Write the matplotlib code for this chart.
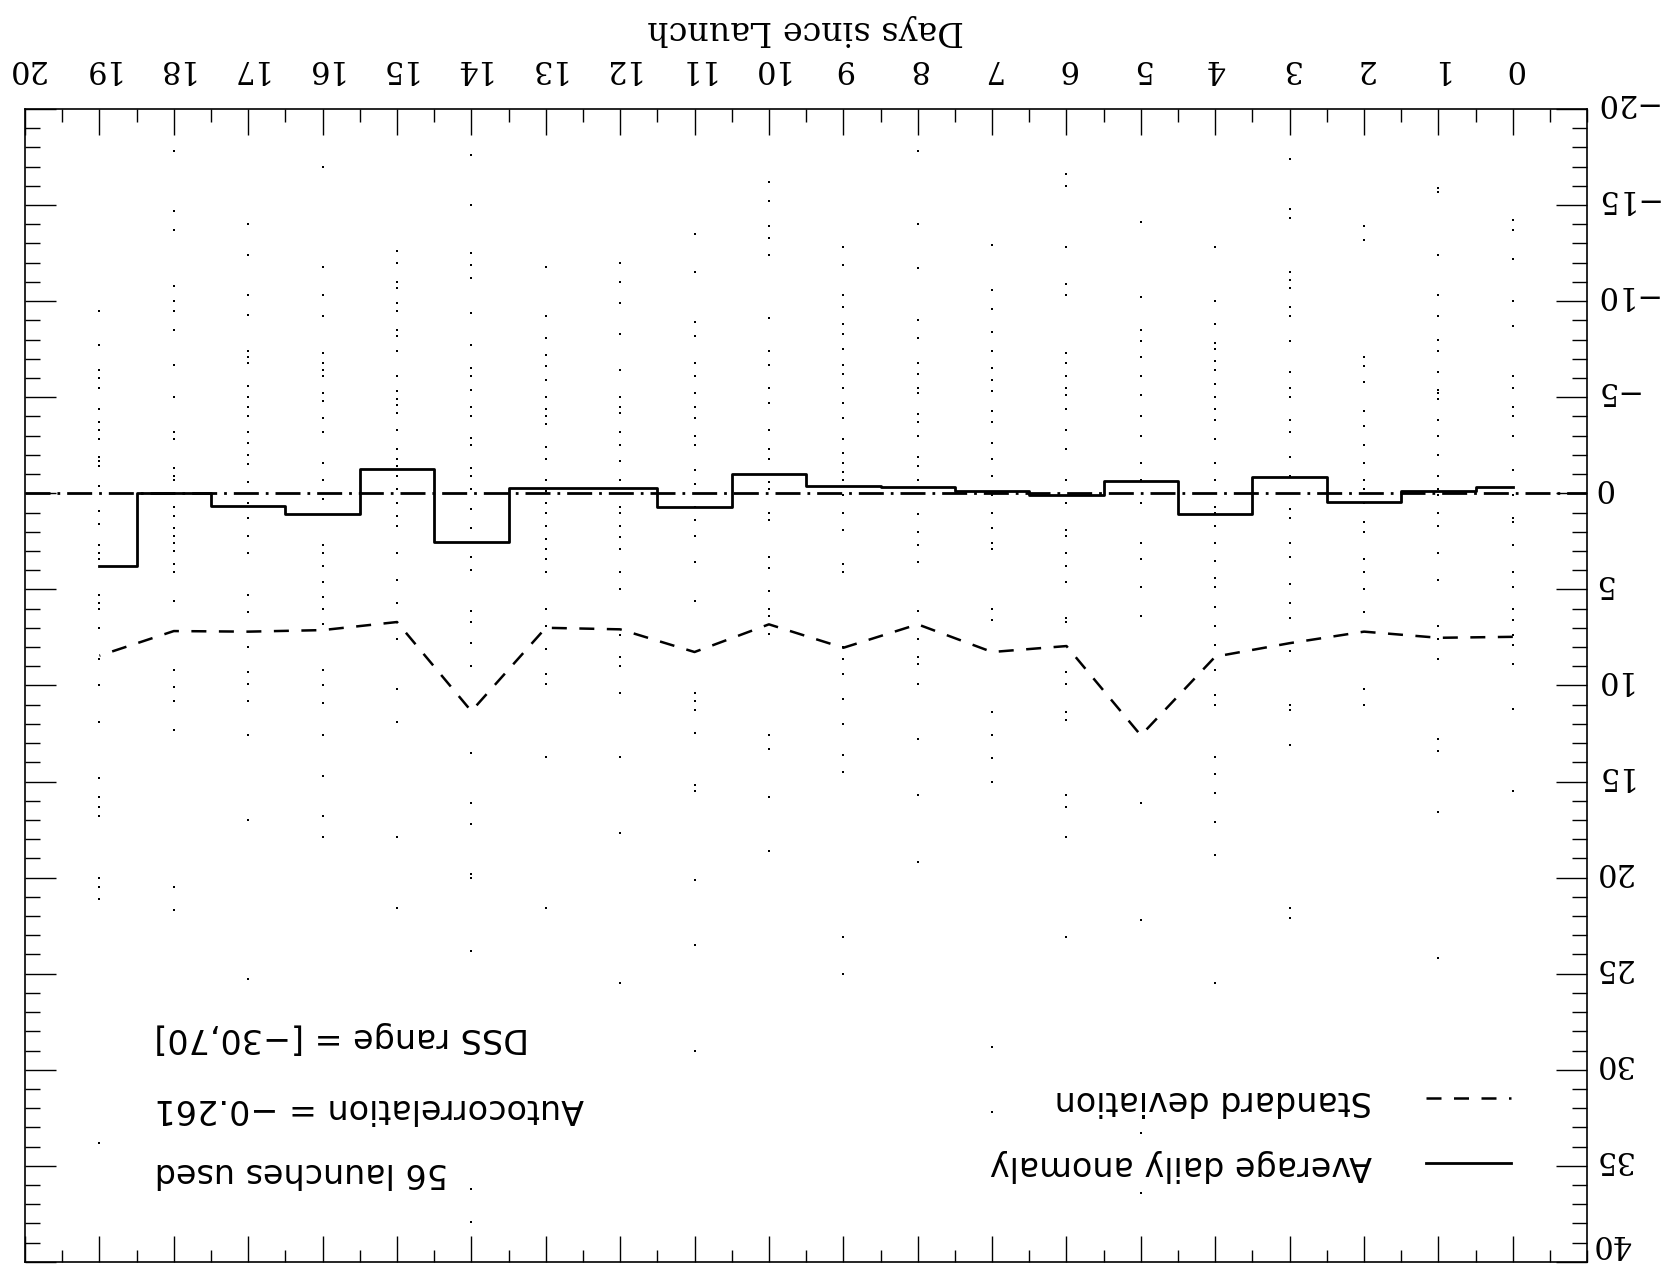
import matplotlib
matplotlib.use('Agg')
import matplotlib.pyplot as plt
from matplotlib.ticker import MultipleLocator
from matplotlib.transforms import ScaledTranslation
import numpy as np

plt.rcParams['font.family'] = 'DejaVu Serif'

# days since launch (0..19)
days = np.arange(0, 20)
day_ticks = np.arange(0, 21)

mean_anomaly = [-0.33, -0.14, 0.45, -0.85, 1.06, -0.64, 0.09, -0.12, -0.35, -0.40,
                -1.00, 0.71, -0.27, -0.30, 2.53, -1.27, 1.09, 0.64, 0.00, 3.80]

std_dev = [7.47, 7.52, 7.20, 7.80, 8.50, 12.60, 7.95, 8.26, 6.82, 8.04,
           6.82, 8.26, 7.08, 7.00, 11.34, 6.70, 7.12, 7.20, 7.17, 8.45]

# individual launch anomalies per day
dots_by_day = [
    [-14.2, -13.7, -12.2, -10.0, -8.7, -6.1, -5.5, -4.5, -4.0, -3.0, -1.2, 0.1, 1.3, 1.5,
     2.7, 4.1, 4.9, 6.0, 6.6, 7.4, 7.9, 8.9, 11.2, 15.5],
    [-15.9, -15.7, -12.4, -10.3, -9.2, -8.0, -7.4, -6.3, -5.4, -5.2, -4.9, -3.8, -3.0, -2.0,
     -0.9, -0.2, 0.1, 1.0, 1.7, 3.1, 4.5, 6.9, 7.6, 8.6, 12.8, 13.4, 16.6, 24.2],
    [-13.9, -13.2, -7.1, -6.6, -5.8, -4.3, -3.5, -2.5, -1.6, -0.7, -0.2, 0.5, 1.5, 2.0,
     3.4, 4.1, 5.0, 6.2, 10.2, 11.0],
    [-17.4, -14.8, -14.3, -11.5, -11.1, -10.7, -9.7, -9.2, -7.9, -6.3, -5.5, -5.0, -3.8, -3.2,
     -1.9, -0.9, 0.8, 1.3, 2.6, 3.3, 4.7, 5.7, 6.5, 8.2, 11.0, 11.3, 13.1, 21.6, 22.1],
    [-12.8, -10.0, -8.8, -7.8, -7.5, -6.9, -6.4, -5.7, -5.0, -4.4, -3.8, -2.8, -1.6, -0.7,
     0.7, 1.0, 1.7, 2.6, 3.5, 4.4, 4.9, 5.9, 6.9, 7.9, 9.2, 10.5, 11.0, 13.7, 14.6, 15.6,
     17.1, 18.8, 25.5],
    [-14.1, -10.2, -8.5, -7.9, -7.1, -6.1, -5.1, -4.0, -3.0, -1.6, -0.7, 0.5, 2.6, 3.4,
     4.9, 6.4, 16.1, 22.2, 33.3, 36.4],
    [-16.6, -16.0, -12.8, -10.9, -10.3, -7.3, -6.8, -6.1, -5.5, -5.1, -4.4, -3.3, -2.3, -0.7,
     0.5, 1.9, 2.2, 3.1, 3.8, 4.6, 6.5, 6.7, 9.3, 9.9, 11.4, 11.8, 15.7, 16.3, 17.9, 23.1],
    [-12.9, -10.6, -9.6, -8.4, -7.4, -6.5, -5.9, -5.3, -4.3, -3.7, -2.6, -1.8, -0.9, 0.1,
     1.0, 1.8, 2.6, 2.9, 6.0, 6.6, 11.4, 12.6, 13.8, 15.0, 28.8, 32.2],
    [-17.8, -14.0, -11.7, -9.0, -8.1, -6.8, -6.2, -5.5, -5.2, -4.1, -3.7, -3.0, -1.9, -1.4,
     -0.7, 1.1, 2.0, 2.7, 3.6, 6.1, 7.6, 8.5, 8.9, 9.9, 12.8, 15.7, 19.2],
    [-12.8, -11.9, -10.3, -9.7, -8.8, -8.3, -7.5, -6.7, -6.2, -5.5, -4.7, -3.9, -2.8, -2.1,
     -1.6, -1.1, -0.7, 0.1, 1.0, 1.9, 3.7, 4.1, 8.0, 8.6, 9.4, 10.7, 12.0, 13.6, 14.5, 23.1, 25.0],
    [-16.2, -15.2, -13.9, -13.3, -12.4, -9.1, -7.4, -6.7, -5.5, -4.7, -3.3, -2.3, -1.8, -0.6,
     -0.2, 1.0, 1.4, 3.3, 3.9, 5.1, 6.0, 6.4, 7.3, 12.6, 13.3, 15.8, 18.6],
    [-13.5, -11.5, -8.9, -8.2, -6.8, -6.1, -5.2, -4.5, -3.9, -3.0, -2.5, -1.2, -0.5, 0.7,
     1.4, 2.2, 3.6, 5.6, 10.4, 10.8, 11.3, 12.5, 15.2, 15.5, 20.1, 23.5, 29.0],
    [-12.0, -11.0, -9.9, -8.3, -6.4, -5.0, -4.5, -4.2, -3.2, -2.5, -1.7, -0.7, 0.7, 1.0,
     1.7, 2.3, 2.9, 4.1, 5.0, 7.4, 8.5, 9.0, 10.4, 13.7, 17.7, 25.5],
    [-11.8, -9.2, -8.1, -7.2, -6.6, -5.9, -5.0, -4.4, -4.0, -3.6, -2.4, -1.8, -0.7, -0.1,
     0.5, 1.0, 1.7, 2.4, 2.9, 3.4, 4.1, 6.0, 6.9, 8.1, 9.4, 9.9, 13.7, 21.6],
    [-17.6, -15.0, -12.5, -11.9, -11.2, -9.4, -7.7, -6.5, -6.1, -5.4, -4.5, -4.0, -2.9, -2.5,
     -1.3, -0.9, -0.2, 0.8, 1.8, 3.3, 4.0, 6.1, 6.7, 7.8, 9.0, 13.5, 16.1, 17.2, 19.8, 20.0,
     23.8, 36.2, 37.9],
    [-12.6, -12.0, -11.0, -10.7, -9.9, -9.5, -8.5, -8.2, -7.4, -6.1, -5.3, -4.9, -4.6, -4.2,
     -3.3, -2.3, -1.8, -1.4, -0.9, -0.2, 0.5, 1.2, 1.7, 3.1, 4.5, 5.7, 7.6, 10.2, 11.9, 17.9, 21.6],
    [-17.0, -11.8, -10.3, -9.2, -7.3, -6.8, -6.4, -6.1, -5.2, -4.8, -3.9, -3.2, -1.6, -0.7,
     0.3, 2.7, 3.1, 3.8, 4.6, 5.4, 6.0, 6.8, 9.2, 10.0, 10.9, 12.6, 14.7, 16.8, 17.9],
    [-14.0, -12.4, -10.3, -9.3, -7.4, -7.1, -6.8, -5.6, -5.0, -4.5, -4.0, -3.2, -2.6, -2.0,
     -1.5, -0.6, 0.5, 1.3, 2.2, 3.1, 5.3, 6.2, 8.0, 9.3, 9.9, 10.8, 12.6, 17.0, 25.3],
    [-17.8, -14.7, -13.7, -10.8, -10.0, -9.5, -8.5, -6.7, -5.0, -3.2, -2.8, -1.3, -0.9, -0.7,
     0.0, 0.7, 1.2, 1.8, 2.2, 2.6, 3.0, 3.7, 4.1, 5.6, 9.2, 10.1, 10.8, 12.3, 20.5, 21.7],
    [-9.5, -7.7, -6.4, -6.0, -5.5, -4.4, -3.7, -3.3, -2.8, -1.9, -1.7, -1.4, -0.4, 0.9,
     1.6, 2.7, 3.1, 3.4, 5.3, 5.7, 6.0, 7.0, 8.6, 10.0, 11.9, 14.8, 15.8, 16.3, 16.8, 20.0,
     20.5, 21.1, 33.8],
]

notes = ['56 launches used', 'Autocorrelation = \u22120.261', 'DSS range = [\u221230,70]']
note_y = [35.35, 32.0, 28.3]

fig = plt.figure(figsize=(16.69, 12.67), dpi=100)
ax = fig.add_axes([0.015, 0.004, 0.936, 0.910])

for d, vals in zip(days, dots_by_day):
    ax.plot(np.full(len(vals), d), vals, 's', ms=1.8, mew=0, color='k')

ax.axhline(0, color='k', lw=2, linestyle=(0, (9, 2.5, 1, 2.5)))
l_mean, = ax.plot(days, mean_anomaly, drawstyle='steps-mid', color='k', lw=2,
                  label='Average daily anomaly')
l_std, = ax.plot(days, std_dev, color='k', lw=1.8, linestyle=(0, (6, 5)),
                 label='Standard deviation')

# whole figure is drawn upside down
ax.set_xlim(20, -1)
ax.set_ylim(40, -20)
ax.set_xticks(day_ticks)
ax.xaxis.set_minor_locator(MultipleLocator(0.5))
ax.yaxis.set_major_locator(MultipleLocator(5))
ax.yaxis.set_minor_locator(MultipleLocator(1))

ax.tick_params(which='both', direction='in', top=True, bottom=True, left=True, right=True,
               labeltop=True, labelbottom=False, labelleft=False, labelright=True, width=1)
ax.tick_params(axis='x', which='major', length=19, labelrotation=180, pad=18, labelsize=22)
ax.tick_params(axis='x', which='minor', length=9)
ax.tick_params(axis='y', which='major', length=22, labelrotation=180, pad=4, labelsize=22)
ax.tick_params(axis='y', which='minor', length=11)
# nudge the upside-down y labels so the digits sit centred on their ticks;
# the last one is pulled up so it stays inside the figure
ax.get_yticklabels()
for tick in ax.yaxis.get_major_ticks():
    up = 4.5 if tick.get_loc() < 39 else 13.5
    lab = tick.label2
    lab.set_verticalalignment('center')
    lab.set_transform(lab.get_transform() + ScaledTranslation(0, up / 72, fig.dpi_scale_trans))
for s in ax.spines.values():
    s.set_linewidth(1.2)

ax.xaxis.set_label_position('top')
ax.set_xlabel('Days since Launch', fontsize=24, rotation=180, labelpad=10)

for txt, y in zip(notes, note_y):
    ax.text(18.26, y, txt, rotation=180, ha='left', va='center', fontsize=24,
            family='DejaVu Sans')

leg = ax.legend(handles=[l_std, l_mean], loc='center right', bbox_to_anchor=(0.951, 0.112),
                frameon=False, markerfirst=False, handlelength=2.55, handletextpad=1.6,
                labelspacing=0.95, borderpad=0, borderaxespad=0,
                prop={'family': 'DejaVu Sans', 'size': 24})
for t in leg.get_texts():
    t.set_rotation(180)

fig.savefig('out.png', dpi=100)
